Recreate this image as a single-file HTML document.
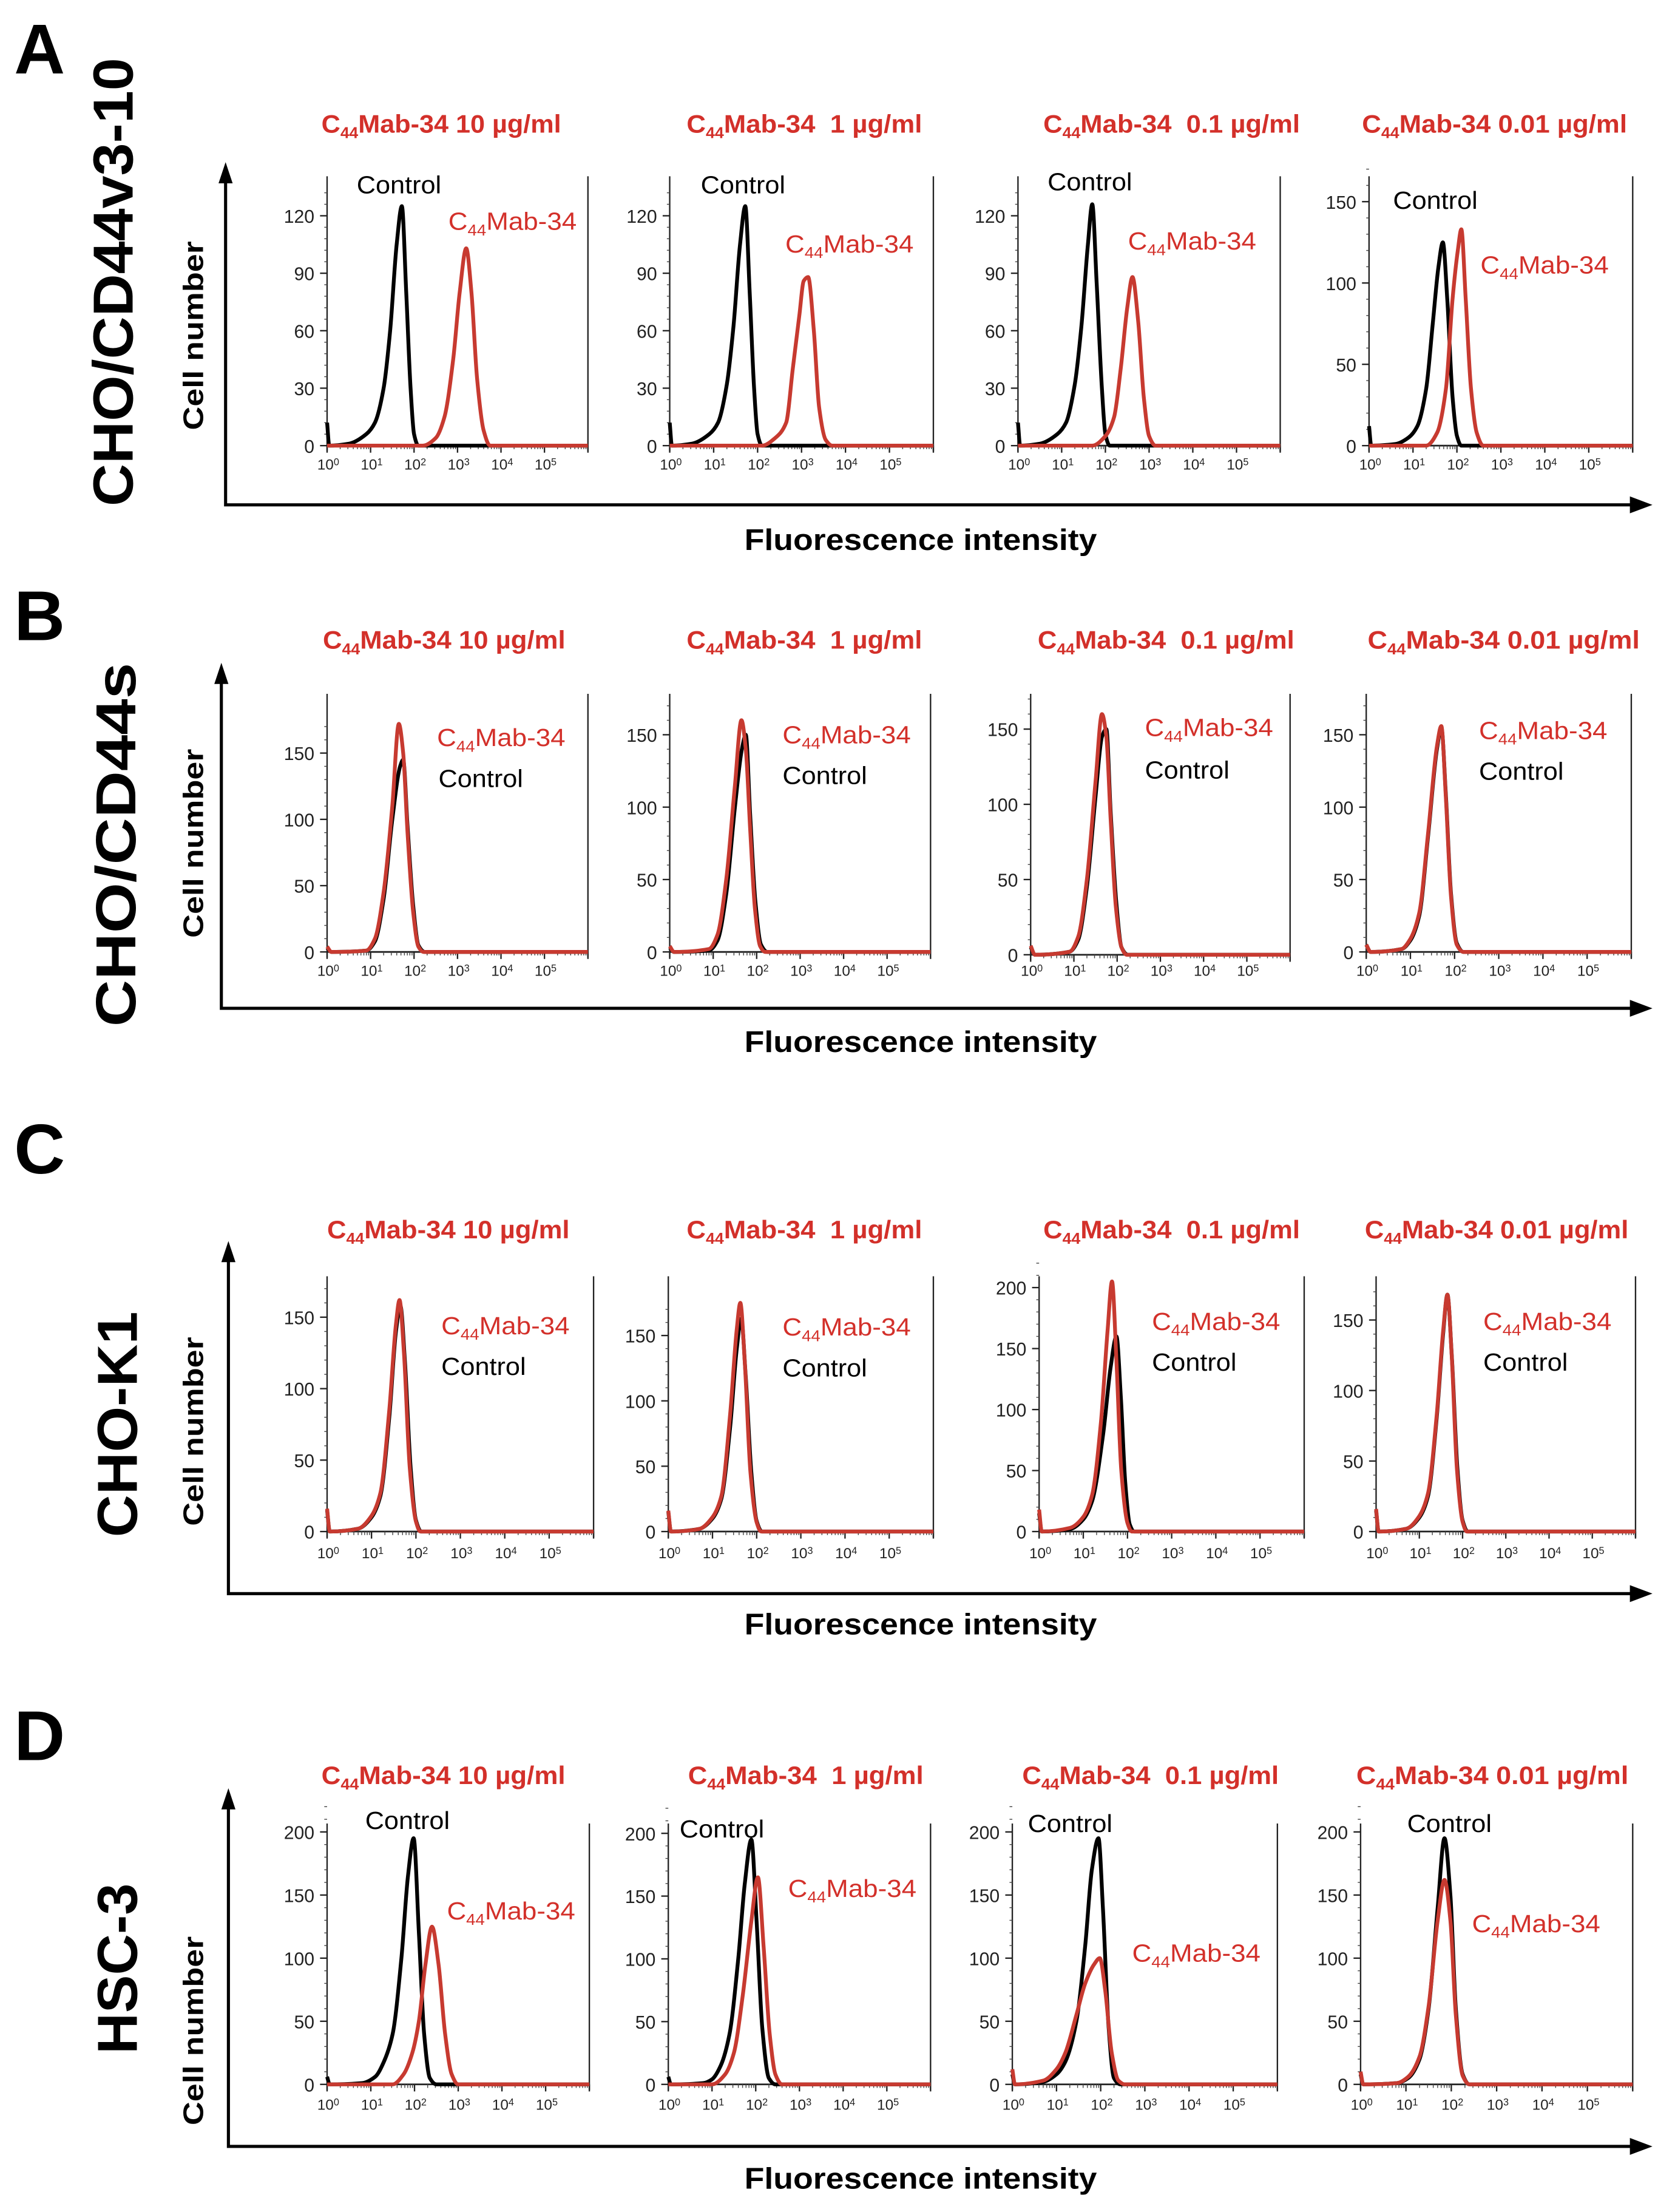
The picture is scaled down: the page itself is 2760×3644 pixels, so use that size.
<!DOCTYPE html>
<html><head><meta charset="utf-8"><title>C44Mab-34 flow cytometry</title>
<style>
html,body{margin:0;padding:0;background:#fff;}
svg{display:block;}
text{font-family:"Liberation Sans",Arial,sans-serif;white-space:pre;}
</style></head>
<body>
<svg id="fig" xmlns="http://www.w3.org/2000/svg" width="2760" height="3644" viewBox="0 0 1188 1568.5" preserveAspectRatio="none"></svg>
<script>
// ---- data (log10 fluorescence, cell count) ----
const rowNames = ["CHO/CD44v3-10","CHO/CD44s","CHO-K1","HSC-3"];
const rowLetters = ["A","B","C","D"];
const concLabels = [" 10 µg/ml","  1 µg/ml","  0.1 µg/ml"," 0.01 µg/ml"];
const xTickLabels = ["0","1","2","3","4","5"];
const yTicksA = [0,30,60,90,120];
const yTicks150 = [0,50,100,150];
const yTicks200 = [0,50,100,150,200];

const ctlA1 = [[0,12],[0.05,0],[0.5,1],[0.9,6],[1.1,12],[1.3,30],[1.45,60],[1.6,105],[1.72,125],[1.82,80],[1.92,30],[2.0,6],[2.1,0],[6,0]];
const abA1 = [[0,0],[2.2,0],[2.5,4],[2.7,15],[2.9,45],[3.05,80],[3.2,103],[3.32,80],[3.45,35],[3.6,8],[3.75,0],[6,0]];
const ctlA2 = [[0,12],[0.05,0],[0.5,1],[0.9,6],[1.1,12],[1.3,32],[1.45,62],[1.6,105],[1.72,125],[1.82,80],[1.92,30],[2.0,6],[2.1,0],[6,0]];
const abA2 = [[0,0],[2.1,0],[2.4,4],[2.65,12],[2.8,40],[2.95,68],[3.05,86],[3.15,88],[3.28,60],[3.4,20],[3.55,3],[3.7,0],[6,0]];
const ctlA3 = [[0,12],[0.05,0],[0.5,1],[0.9,6],[1.1,12],[1.3,32],[1.45,62],[1.6,105],[1.7,126],[1.8,85],[1.92,30],[2.0,6],[2.1,0],[6,0]];
const abA3 = [[0,0],[1.7,0],[2.0,5],[2.2,15],[2.35,40],[2.5,72],[2.62,88],[2.75,65],[2.88,25],[3.0,5],[3.15,0],[6,0]];
const ctlA4 = [[0,12],[0.05,0],[0.6,1],[0.9,5],[1.1,12],[1.3,35],[1.45,75],[1.58,110],[1.68,125],[1.78,90],[1.9,30],[2.0,6],[2.1,0],[6,0]];
const abA4 = [[0,0],[1.3,0],[1.55,8],[1.75,35],[1.9,90],[2.02,120],[2.1,133],[2.2,90],[2.32,35],[2.45,8],[2.6,0],[6,0]];

const ctlB1 = [[0,3],[0.1,0],[0.9,1],[1.1,8],[1.3,40],[1.5,100],[1.68,140],[1.75,145],[1.85,95],[1.98,35],[2.1,5],[2.25,0],[6,0]];
const abB1 = [[0,4],[0.1,0],[0.9,1],[1.1,10],[1.3,45],[1.5,110],[1.65,172],[1.75,150],[1.85,90],[1.98,30],[2.1,4],[2.22,0],[6,0]];
const ctlB2 = [[0,3],[0.1,0],[0.9,1],[1.1,8],[1.3,40],[1.5,100],[1.66,140],[1.75,150],[1.85,95],[1.97,35],[2.1,5],[2.25,0],[6,0]];
const abB2 = [[0,4],[0.1,0],[0.9,2],[1.1,12],[1.3,50],[1.5,115],[1.65,160],[1.75,140],[1.85,85],[1.96,30],[2.08,4],[2.2,0],[6,0]];
const ctlB3 = [[0,5],[0.1,0],[0.9,2],[1.1,10],[1.3,45],[1.5,105],[1.65,145],[1.75,150],[1.85,95],[1.98,35],[2.1,5],[2.25,0],[6,0]];
const abB3 = [[0,6],[0.1,0],[0.9,2],[1.1,12],[1.3,50],[1.5,115],[1.65,160],[1.75,145],[1.85,90],[1.97,32],[2.1,5],[2.22,0],[6,0]];
const ctlB4 = [[0,5],[0.1,0],[0.8,2],[1.0,8],[1.2,25],[1.4,80],[1.6,140],[1.7,155],[1.8,110],[1.92,40],[2.05,6],[2.2,0],[6,0]];
const abB4 = [[0,5],[0.1,0],[0.8,2],[1.0,9],[1.2,27],[1.4,82],[1.6,142],[1.7,156],[1.8,108],[1.92,38],[2.05,5],[2.2,0],[6,0]];

const ctlC1 = [[0,15],[0.06,0],[0.7,2],[1.0,10],[1.2,25],[1.4,80],[1.55,140],[1.65,158],[1.75,120],[1.88,45],[2.0,8],[2.12,0],[6,0]];
const abC1 = [[0,16],[0.06,0],[0.7,2],[1.0,11],[1.2,27],[1.4,85],[1.55,145],[1.63,162],[1.73,125],[1.86,45],[2.0,7],[2.1,0],[6,0]];
const ctlC2 = [[0,15],[0.06,0],[0.7,2],[1.0,10],[1.2,25],[1.4,80],[1.55,140],[1.65,163],[1.75,120],[1.88,45],[2.0,8],[2.12,0],[6,0]];
const abC2 = [[0,16],[0.06,0],[0.7,2],[1.0,11],[1.2,27],[1.4,90],[1.55,155],[1.63,175],[1.73,130],[1.86,45],[2.0,7],[2.1,0],[6,0]];
const ctlC3 = [[0,15],[0.06,0],[0.7,2],[1.0,10],[1.2,25],[1.45,80],[1.62,135],[1.75,160],[1.85,110],[1.95,40],[2.05,6],[2.15,0],[6,0]];
const abC3 = [[0,18],[0.06,0],[0.7,3],[1.0,12],[1.2,30],[1.4,90],[1.55,165],[1.65,205],[1.75,140],[1.86,50],[2.0,7],[2.1,0],[6,0]];
const ctlC4 = [[0,15],[0.06,0],[0.7,2],[1.0,10],[1.2,25],[1.4,80],[1.55,140],[1.65,168],[1.75,125],[1.88,45],[2.0,8],[2.12,0],[6,0]];
const abC4 = [[0,16],[0.06,0],[0.7,2],[1.0,11],[1.2,27],[1.4,82],[1.55,142],[1.65,168],[1.75,124],[1.87,44],[2.0,7],[2.1,0],[6,0]];

const ctlD1 = [[0,6],[0.06,0],[0.8,1],[1.1,6],[1.3,18],[1.5,40],[1.7,100],[1.85,165],[1.98,195],[2.1,120],[2.22,40],[2.35,5],[2.5,0],[6,0]];
const abD1 = [[0,0],[1.5,0],[1.75,8],[1.95,25],[2.1,50],[2.25,95],[2.4,125],[2.55,95],[2.7,40],[2.85,8],[3.0,0],[6,0]];
const ctlD2 = [[0,6],[0.06,0],[0.8,1],[1.0,4],[1.2,15],[1.4,40],[1.6,100],[1.75,160],[1.9,195],[2.02,130],[2.15,45],[2.3,5],[2.45,0],[6,0]];
const abD2 = [[0,0],[1.0,0],[1.3,8],[1.5,25],[1.7,70],[1.9,130],[2.05,165],[2.18,110],[2.32,40],[2.45,8],[2.6,0],[6,0]];
const ctlD3 = [[0,8],[0.06,0],[0.7,2],[1.0,8],[1.2,18],[1.45,50],[1.65,110],[1.8,170],[1.95,195],[2.05,140],[2.18,45],[2.3,5],[2.45,0],[6,0]];
const abD3 = [[0,12],[0.06,0],[0.7,3],[1.0,12],[1.2,25],[1.45,55],[1.65,80],[1.85,95],[1.98,100],[2.1,75],[2.25,25],[2.4,3],[2.55,0],[6,0]];
const ctlD4 = [[0,8],[0.06,0],[0.8,1],[1.05,5],[1.3,20],[1.5,60],[1.7,140],[1.85,195],[1.98,150],[2.1,60],[2.25,8],[2.4,0],[6,0]];
const abD4 = [[0,10],[0.06,0],[0.8,1],[1.05,6],[1.3,22],[1.5,62],[1.7,130],[1.85,162],[1.98,130],[2.1,55],[2.25,7],[2.4,0],[6,0]];

const controls = [[ctlA1,ctlA2,ctlA3,ctlA4],[ctlB1,ctlB2,ctlB3,ctlB4],[ctlC1,ctlC2,ctlC3,ctlC4],[ctlD1,ctlD2,ctlD3,ctlD4]];
const antibodies = [[abA1,abA2,abA3,abA4],[abB1,abB2,abB3,abB4],[abC1,abC2,abC3,abC4],[abD1,abD2,abD3,abD4]];
const yTickSets = [[yTicksA,yTicksA,yTicksA,yTicks150],[yTicks150,yTicks150,yTicks150,yTicks150],[yTicks150,yTicks150,yTicks200,yTicks150],[yTicks200,yTicks200,yTicks200,yTicks200]];

// ---- layout (figure coordinates) ----
const RED = "#d3302a", CRED = "#c73a30";
const rows = [
 {letterY:52, labelX:80, labelY:200, labelLen:318, cellY:238, axX:160, axTop:115, axY:358, fiY:390, titleY:94, zero:316, top:125, tickLblY:333,
  plots:[{x0:232,x1:417,tv:120,tp:153,tx:[228,170]},{x0:475,x1:662,tv:120,tp:153,tx:[487,167]},{x0:722,x1:908,tv:120,tp:153,tx:[740,182]},{x0:971,x1:1158,tv:150,tp:143,tx:[966,188]}],
  labels:[[[253,137],[318,163]],[[497,137],[557,179]],[[743,135],[800,177]],[[988,148],[1050,194]]]},
 {letterY:454, labelX:82, labelY:599, labelLen:258, cellY:598, axX:157, axTop:470, axY:715, fiY:746, titleY:460, zero:675, top:492, tickLblY:692,
  plots:[{x0:232,x1:417,tv:150,tp:534,tx:[229,172]},{x0:475,x1:660,tv:150,tp:521,tx:[487,167]},{x0:731,x1:915,tv:150,tp:517,tx:[736,182],zero:677},{x0:969,x1:1157,tv:150,tp:521,tx:[970,193]}],
  labels:[[[311,558],[310,529]],[[555,556],[555,527]],[[812,552],[812,522]],[[1049,553],[1049,524]]]},
 {letterY:832, labelX:83, labelY:1010, labelLen:160, cellY:1015, axX:162, axTop:880, axY:1130, fiY:1159, titleY:878, zero:1086, top:905, tickLblY:1105,
  plots:[{x0:232,x1:421,tv:150,tp:934,tx:[232,172]},{x0:474,x1:662,tv:150,tp:947,tx:[487,167]},{x0:737,x1:925,tv:200,tp:913,tx:[740,182]},{x0:976,x1:1160,tv:150,tp:936,tx:[968,187]}],
  labels:[[[313,975],[313,946]],[[555,976],[555,947]],[[817,972],[817,943]],[[1052,972],[1052,943]]]},
 {letterY:1248, labelX:83, labelY:1396, labelLen:121, cellY:1440, axX:162, axTop:1268, axY:1522, fiY:1552, titleY:1265, zero:1478, top:1293, tickLblY:1496,
  plots:[{x0:232,x1:418,tv:200,tp:1299,tx:[228,173]},{x0:474,x1:660,tv:200,tp:1300,tx:[488,167]},{x0:718,x1:906,tv:200,tp:1299,tx:[725,182]},{x0:965,x1:1158,tv:200,tp:1299,tx:[962,193]}],
  labels:[[[259,1297],[317,1361]],[[482,1303],[559,1345]],[[729,1299],[803,1391]],[[998,1299],[1044,1370]]]}
];

const svg = document.getElementById('fig');
const NS = "http://www.w3.org/2000/svg";
function mk(tag, attrs, parent){
  const e = document.createElementNS(NS, tag);
  for (const k in attrs) e.setAttribute(k, attrs[k]);
  (parent||svg).appendChild(e);
  return e;
}
// monotone cubic (Fritsch-Carlson) through the points: no overshoot or loops
function smoothPath(pts){
  const n = pts.length;
  const dx = [], m = [];
  for (let i = 0; i < n-1; i++){ dx.push(pts[i+1][0]-pts[i][0]); m.push((pts[i+1][1]-pts[i][1])/(dx[i]||1e-6)); }
  const t = new Array(n);
  t[0] = m[0]; t[n-1] = m[n-2];
  for (let i = 1; i < n-1; i++){
    if (m[i-1]*m[i] <= 0) t[i] = 0;
    else { const w1 = 2*dx[i]+dx[i-1], w2 = dx[i]+2*dx[i-1]; t[i] = (w1+w2)/(w1/m[i-1]+w2/m[i]); }
  }
  let d = `M${pts[0][0].toFixed(2)},${pts[0][1].toFixed(2)}`;
  for (let i = 0; i < n-1; i++){
    const h = dx[i]/3;
    d += ` C${(pts[i][0]+h).toFixed(2)},${(pts[i][1]+t[i]*h).toFixed(2)} ${(pts[i+1][0]-h).toFixed(2)},${(pts[i+1][1]-t[i+1]*h).toFixed(2)} ${pts[i+1][0].toFixed(2)},${pts[i+1][1].toFixed(2)}`;
  }
  return d;
}
function abLabel(parent, x, y, name){
  const t = mk('text', {x:x, y:y, 'font-size':17.5, fill:RED, textLength:91, lengthAdjust:'spacingAndGlyphs'}, parent);
  
  
  t.appendChild(document.createTextNode('C'));
  const s = mk('tspan', {'font-size':11, dy:4}, t); s.textContent = '44';
  const s2 = mk('tspan', {dy:-4}, t); s2.textContent = 'Mab-34';
  return t;
}

rows.forEach((r, ri) => {
  const g = mk('g', {});
  
  
  const L = mk('text', {x:10, y:r.letterY, 'font-size':50, 'font-weight':'bold', fill:'#000'}, g);
  
  
  L.textContent = rowLetters[ri];
  const RL = mk('text', {x:0, y:0, 'font-size':40, 'font-weight':'bold', 'text-anchor':'middle', fill:'#000', textLength:r.labelLen, lengthAdjust:'spacingAndGlyphs', transform:`translate(${r.labelX+14},${r.labelY}) rotate(-90)`}, g);
  
  
  RL.textContent = rowNames[ri];
  const CN = mk('text', {x:0, y:0, 'font-size':20, 'font-weight':'bold', 'text-anchor':'middle', fill:'#000', textLength:134, lengthAdjust:'spacingAndGlyphs', transform:`translate(${144},${r.cellY}) rotate(-90)`}, g);
  
  
  CN.textContent = 'Cell number';
  const ax = mk('path', {d:`M${r.axX},${r.axTop+14} L${r.axX},${r.axY} L1160,${r.axY}`, fill:'none', stroke:'#000', 'stroke-width':2.2}, g);
  
  
  const ah1 = mk('polygon', {points:`${r.axX-5},${r.axTop+15} ${r.axX+5},${r.axTop+15} ${r.axX},${r.axTop}`, fill:'#000'}, g);
  
  
  const ah2 = mk('polygon', {points:`1156,${r.axY-6} 1156,${r.axY+6} 1172,${r.axY}`, fill:'#000'}, g);
  
  
  const FI = mk('text', {x:653, y:r.fiY, 'font-size':21, 'font-weight':'bold', 'text-anchor':'middle', fill:'#000', textLength:250, lengthAdjust:'spacingAndGlyphs'}, g);
  
  
  FI.textContent = 'Fluorescence intensity';

  r.plots.forEach((p, pi) => {
    const pg = mk('g', {}, g);
    
    
    const zero = p.zero || r.zero;
    const xs = v => p.x0 + v * (p.x1 - p.x0) / 6;
    const ys = v => zero - v * (zero - p.tp) / p.tv;
    const T = mk('text', {x:p.tx[0], y:r.titleY, 'font-size':18, 'font-weight':'bold', fill:RED, textLength:p.tx[1], lengthAdjust:'spacingAndGlyphs'}, pg);
    
    
    T.appendChild(document.createTextNode('C'));
    const ts = mk('tspan', {'font-size':11, dy:4}, T); ts.textContent = '44';
    const ts2 = mk('tspan', {dy:-4}, T); ts2.textContent = 'Mab-34' + concLabels[pi];
    const fr = mk('path', {d:`M${p.x0},${r.top} L${p.x0},${zero+4} M${p.x1},${r.top} L${p.x1},${zero+4}`, stroke:'#222', 'stroke-width':1, fill:'none'}, pg);
    
    
    const xa = mk('line', {x1:p.x0, y1:zero, x2:p.x1, y2:zero, stroke:'#222', 'stroke-width':1.2}, pg);
    
    
    for (let d = 0; d <= 6; d++) {
      const tk = mk('line', {x1:xs(d), y1:zero, x2:xs(d), y2:zero+5, stroke:'#222', 'stroke-width':1}, pg);
      
      
      if (d < 6) for (let m = 2; m < 10; m++) {
        const mx = xs(d + Math.log10(m));
        const mt = mk('line', {x1:mx, y1:zero, x2:mx, y2:zero+2.5, stroke:'#444', 'stroke-width':0.6}, pg);
        
        
      }
    }
    xTickLabels.forEach((lab, i) => {
      const tl = mk('text', {x:xs(i)-7, y:r.tickLblY, 'font-size':10.5, fill:'#222'}, pg);
      
      
      tl.appendChild(document.createTextNode('10'));
      const sp = mk('tspan', {'font-size':7, dy:-3}, tl); sp.textContent = lab;
    });
    const yt = yTickSets[ri][pi];
    const step = yt[1] - yt[0];
    for (let v = 0; v <= yt[yt.length-1] + step*0.4; v += step/5) {
      const mt = mk('line', {x1:p.x0-2, y1:ys(v), x2:p.x0, y2:ys(v), stroke:'#444', 'stroke-width':0.6}, pg);
      
      
    }
    yt.forEach(v => {
      const tk = mk('line', {x1:p.x0-5, y1:ys(v), x2:p.x0, y2:ys(v), stroke:'#222', 'stroke-width':1}, pg);
      
      
      const tl = mk('text', {x:p.x0-9, y:ys(v)+5, 'font-size':13, 'text-anchor':'end', fill:'#222'}, pg);
      
      
      tl.textContent = v;
    });
    const line = (data, color, name) => {
      const pts = data.map(d => [xs(d[0]), ys(d[1])]);
      const pl = mk('path', {d:smoothPath(pts), fill:'none', stroke:color, 'stroke-width':2.7, 'stroke-linejoin':'round'}, pg);
      
      
    };
    line(controls[ri][pi], '#000', 'control-curve');
    line(antibodies[ri][pi], CRED, 'antibody-curve');
    const lc = r.labels[pi];
    const ct = mk('text', {x:lc[0][0], y:lc[0][1], 'font-size':17.5, fill:'#000', textLength:60, lengthAdjust:'spacingAndGlyphs'}, pg);
    
    
    ct.textContent = 'Control';
    abLabel(pg, lc[1][0], lc[1][1], 'antibody-label');
  });
});
</script>
</body></html>
